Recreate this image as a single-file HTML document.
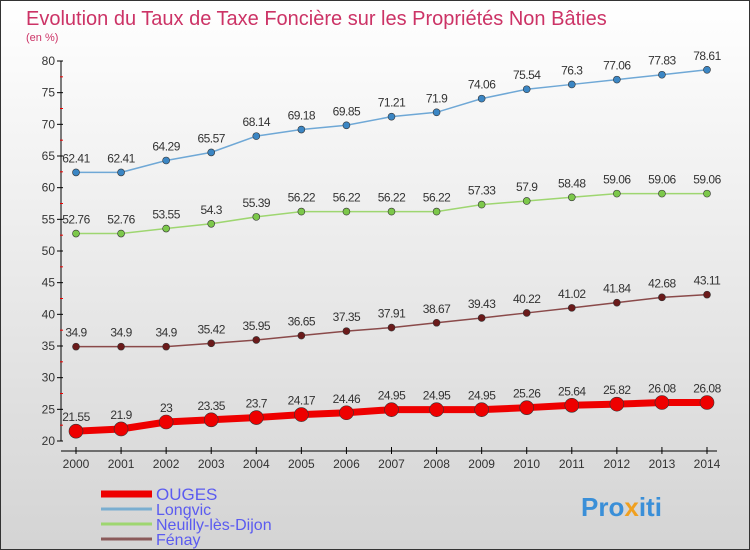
<!DOCTYPE html>
<html><head><meta charset="utf-8"><style>
body{margin:0}
#c{width:750px;height:550px;position:relative;font-family:"Liberation Sans",sans-serif;background:linear-gradient(#ffffff,#d4d4d4);box-sizing:border-box;border:1px solid #333;overflow:hidden}
</style></head><body>
<div id="c">
<svg id="s" width="750" height="550" style="position:absolute;left:0;top:0">
<text x="25" y="24" font-size="20" fill="#cc3366">Evolution du Taux de Taxe Foncière sur les Propriétés Non Bâties</text>
<text x="25" y="40" font-size="11" fill="#cc3366">(en %)</text>
</svg>
</div>
<script>
const years=[2000,2001,2002,2003,2004,2005,2006,2007,2008,2009,2010,2011,2012,2013,2014];
const ouges=[21.55,21.9,23,23.35,23.7,24.17,24.46,24.95,24.95,24.95,25.26,25.64,25.82,26.08,26.08];
const longvic=[62.41,62.41,64.29,65.57,68.14,69.18,69.85,71.21,71.9,74.06,75.54,76.3,77.06,77.83,78.61];
const neuilly=[52.76,52.76,53.55,54.3,55.39,56.22,56.22,56.22,56.22,57.33,57.9,58.48,59.06,59.06,59.06];
const fenay=[34.9,34.9,34.9,35.42,35.95,36.65,37.35,37.91,38.67,39.43,40.22,41.02,41.84,42.68,43.11];
const yTicks=[20,25,30,35,40,45,50,55,60,65,70,75,80];
const NS='http://www.w3.org/2000/svg';
const s=document.getElementById('s');
const X=i=>75+i*(706-75)/(years.length-1);
const Y=v=>440-(v-20)*(380/60);
function el(t,a,p){const e=document.createElementNS(NS,t);for(const k in a)e.setAttribute(k,a[k]);(p||s).appendChild(e);return e;}
const ax=el('g',{});


el('line',{x1:60,y1:Y(80),x2:60,y2:Y(20),stroke:'#000'},ax);
el('line',{x1:60,y1:450,x2:716,y2:450,stroke:'#000'},ax);
yTicks.forEach((v,i)=>{
 el('line',{x1:56,y1:Y(v),x2:62,y2:Y(v),stroke:'#000'},ax);
 if(i<yTicks.length-1)el('line',{x1:59,y1:Y(v+2.5),x2:62,y2:Y(v+2.5),stroke:'#e00'},ax);
 const t=el('text',{x:54,y:Y(v)+4,'font-size':12,'text-anchor':'end',fill:'#333'},ax);t.textContent=v;
 
 
});
years.forEach((y,i)=>{
 el('line',{x1:X(i),y1:446,x2:X(i),y2:453,stroke:'#000'},ax);
 const t=el('text',{x:X(i),y:467,'font-size':12,'text-anchor':'middle',fill:'#333'},ax);t.textContent=y;
 
 
});
function series(data,color,w,r,dot,name){
 const g=el('g',{});
 
 
 el('polyline',{points:data.map((v,i)=>X(i)+','+Y(v)).join(' '),fill:'none',stroke:color,'stroke-width':w},g);
 data.forEach((v,i)=>{
  const c=el('circle',{cx:X(i),cy:Y(v),r:r,fill:dot,stroke:'#333','stroke-width':0.6},g);
  
  
  const t=el('text',{x:X(i),y:Y(v)-10,'font-size':12,'text-anchor':'middle',fill:'#333','letter-spacing':'-0.5'},g);t.textContent=v;
  
  
 });
}
series(longvic,'#6fa8d6',1.5,3.5,'#3b86c4','longvic-series');
series(neuilly,'#9ed670',1.5,3.5,'#7cc84a','neuilly-series');
series(fenay,'#8a4a4a',1.5,3.5,'#6b1a1a','fenay-series');
series(ouges,'#ee0000',7,7,'#ee0000','ouges-series');
const lg=[['OUGES','#ee0000',7],['Longvic','#7aaed0',3],['Neuilly-lès-Dijon','#9ed670',3],['Fénay','#8a5a5a',3]];
lg.forEach((l,i)=>{
 const g=el('g',{});
 
 
 const y=493+i*15;
 el('line',{x1:100,y1:y,x2:151,y2:y,stroke:l[1],'stroke-width':l[2]},g);
 const t=el('text',{x:155,y:y+6,'font-size':i==0?17:16,fill:'#5b5bf0'},g);t.textContent=l[0];
});
const lo=el('text',{x:580,y:515,'font-size':26,'font-weight':'bold',fill:'#3a8fd8'});


lo.innerHTML='Pro<tspan fill="#f0a020">x</tspan>iti';
</script>
</body></html>
